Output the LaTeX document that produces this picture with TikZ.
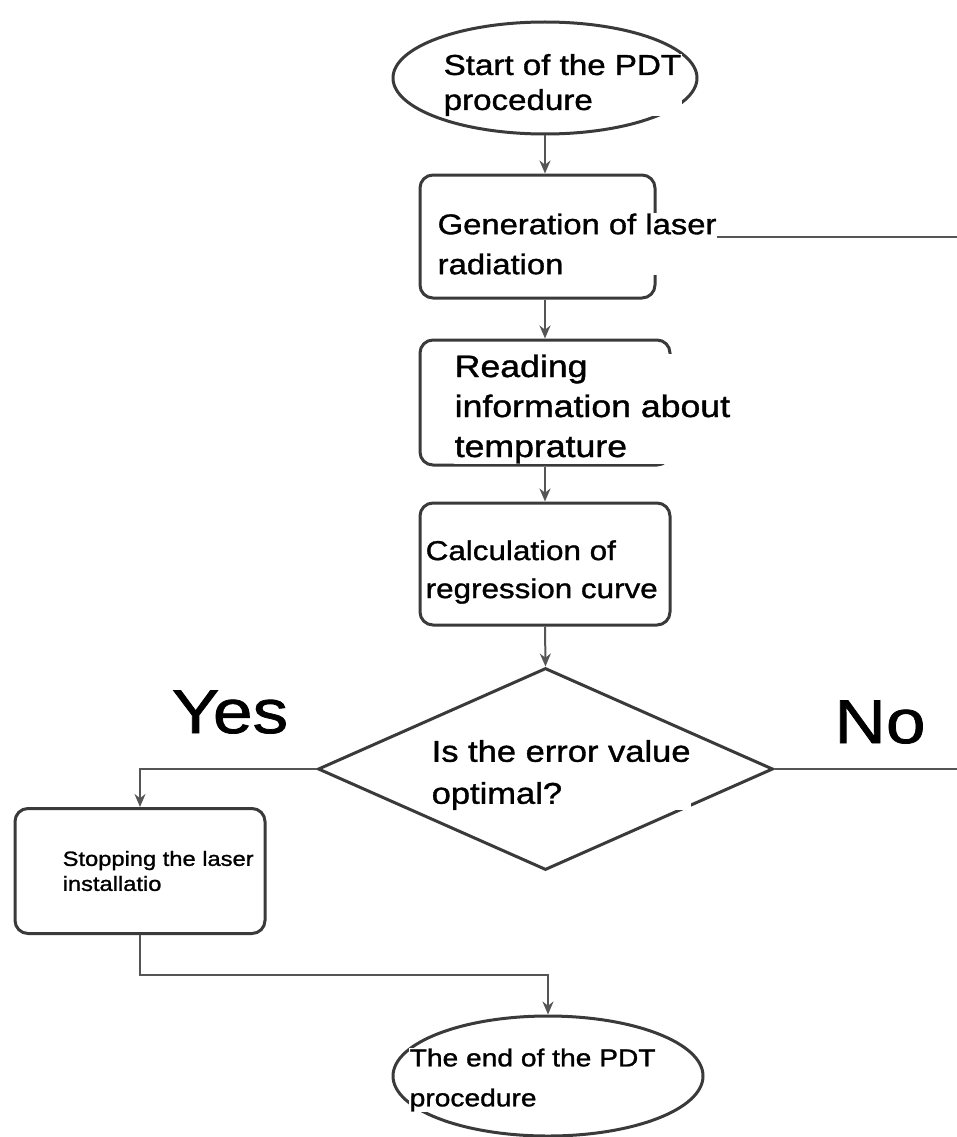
\documentclass[tikz,border=0pt]{standalone}
\usepackage{fontspec}
\setmainfont[FakeStretch=1.15, FakeBold=1.2]{Liberation Sans}
\usetikzlibrary{shapes.geometric,arrows.meta}
\definecolor{edge}{HTML}{3A3A3A}
\definecolor{conn}{HTML}{555555}
\tikzset{
  box/.style={draw=edge, line width=3pt, rounded corners=13pt, rectangle, inner sep=0pt},
  oval/.style={draw=edge, line width=3pt, ellipse, inner sep=0pt},
  decide/.style={draw=edge, line width=3pt, diamond, inner sep=0pt},
  lbl/.style={fill=white, inner sep=0.5pt, align=left, anchor=west, text=black},
  conn/.style={draw=conn, line width=2pt},
  arr/.style={conn, -{Stealth[length=13pt,width=11pt]}},
}
\begin{document}
\begin{tikzpicture}[x=1pt,y=-1pt]
\useasboundingbox[fill=white] (0,0) rectangle (957,1137);
% shapes
\node[oval, minimum width=304pt, minimum height=112pt] (start) at (545,78) {};
\node[box, minimum width=235pt, minimum height=123pt] (gen) at (537.5,236.5) {};
\node[box, minimum width=250pt, minimum height=125pt] (read) at (545,402.5) {};
\node[box, minimum width=250pt, minimum height=122pt] (calc) at (545,564) {};
\node[decide, minimum width=455pt, minimum height=202pt] (dec) at (545.5,769) {};
\node[box, minimum width=250pt, minimum height=125pt] (stop) at (140,871) {};
\node[oval, minimum width=310pt, minimum height=120pt] (end) at (548,1076) {};
% free ends
\coordinate (r1) at (957,236.5);
\coordinate (r2) at (957,769);
\coordinate (j) at (548,975);
% connectors
\draw[arr] (start.south) -- (start.south |- gen.north);
\draw[arr] (gen.south -| read.north) -- (read.north);
\draw[arr] (read.south) -- (calc.north);
\draw[arr] (calc.south) -- (dec.north);
\draw[arr] (dec.west) -| (stop.north);
\draw[arr] (stop.south) |- (j) -- (end.north);
\draw[conn] (dec.east) -- (r2);
\draw[conn] (gen.east) -- (r1);
% labels
\node[lbl, font=\fontsize{28.8}{35}\selectfont] (tstart) at (443,85) {Start of the PDT\\procedure};
\node[lbl, font=\fontsize{28.5}{40}\selectfont] (tgen) at (437,244) {Generation of laser\\radiation};
\node[lbl, font=\fontsize{31}{40}\selectfont] (tread) at (454,409) {Reading\\information about\\temprature};
\node[lbl, font=\fontsize{27.3}{38}\selectfont] (tcalc) at (425,572) {Calculation of\\regression curve};
\node[lbl, font=\fontsize{30}{42}\selectfont] (tdec) at (431,775) {Is the error value\\optimal?};
\node[lbl, font=\fontsize{20.6}{25}\selectfont] (tstop) at (62,871) {Stopping the laser\\installatio};
\node[lbl, font=\fontsize{24.5}{40}\selectfont] (tend) at (409,1080) {The end of the PDT\\procedure};
\node[font=\fontsize{62}{70}\selectfont, fill=white, inner sep=4pt] (yes) at (230,712) {Yes};
\node[font=\fontsize{62}{70}\selectfont, fill=white, inner sep=4pt] (no) at (880,722) {No};
\end{tikzpicture}
\end{document}
